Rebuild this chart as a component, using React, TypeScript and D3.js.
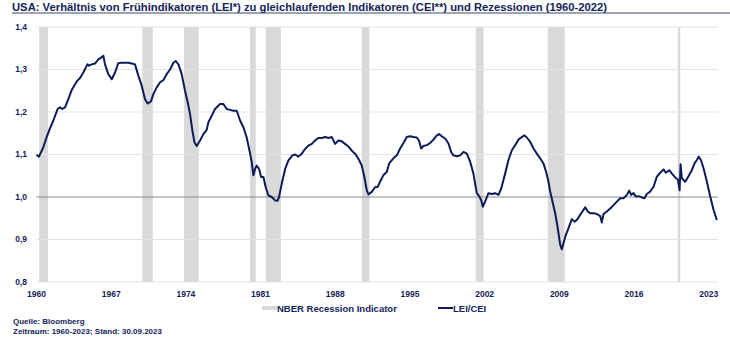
import React from "react";
import * as d3 from "d3";

const TITLE = "USA: Verhältnis von Frühindikatoren (LEI*) zu gleichlaufenden Indikatoren (CEI**) und Rezessionen (1960-2022)";
const yTicks = [0.8, 0.9, 1.0, 1.1, 1.2, 1.3, 1.4];
const xTicks = [1960, 1967, 1974, 1981, 1988, 1995, 2002, 2009, 2016, 2023];
const recStart = [1960.25, 1969.92, 1973.83, 1980.0, 1981.5, 1990.5, 2001.17, 2007.92, 2020.1];
const recEnd = [1961.08, 1970.9, 1975.2, 1980.55, 1982.9, 1991.2, 2001.9, 2009.5, 2020.33];

const dates = [
  1960.0, 1960.23, 1960.64, 1960.95, 1961.27, 1961.58, 1961.98, 1962.2, 1962.42, 1962.67, 1962.98,
  1963.3, 1963.77, 1964.08, 1964.39, 1964.77, 1964.92, 1965.17, 1965.48, 1965.8, 1966.05, 1966.27,
  1966.42, 1966.73, 1967.05, 1967.36, 1967.67, 1967.98, 1968.3, 1968.6, 1968.92, 1969.23, 1969.55,
  1969.86, 1970.17, 1970.42, 1970.73, 1970.95, 1971.27, 1971.58, 1971.89, 1972.2, 1972.52, 1972.83,
  1973.05, 1973.3, 1973.61, 1973.92, 1974.17, 1974.39, 1974.61, 1974.8, 1975.02, 1975.33, 1975.64,
  1975.95, 1976.11, 1976.42, 1976.73, 1977.2, 1977.5, 1977.83, 1978.14, 1978.45, 1978.77, 1979.08,
  1979.39, 1979.7, 1980.02, 1980.17, 1980.33, 1980.48, 1980.64, 1980.86, 1981.05, 1981.27, 1981.48,
  1981.73, 1982.05, 1982.36, 1982.58, 1982.73, 1982.98, 1983.3, 1983.61, 1983.98, 1984.23, 1984.55,
  1984.86, 1985.17, 1985.48, 1985.8, 1986.11, 1986.42, 1986.73, 1987.05, 1987.36, 1987.67, 1987.98,
  1988.3, 1988.6, 1988.92, 1989.23, 1989.55, 1989.86, 1990.17, 1990.48, 1990.73, 1990.95, 1991.11,
  1991.42, 1991.73, 1991.98, 1992.2, 1992.52, 1992.83, 1993.05, 1993.45, 1993.77, 1994.08, 1994.39,
  1994.7, 1995.02, 1995.33, 1995.64, 1995.86, 1996.05, 1996.26, 1996.58, 1996.89, 1997.2, 1997.52,
  1997.73, 1997.98, 1998.3, 1998.61, 1998.86, 1999.08, 1999.4, 1999.7, 2000.02, 2000.33, 2000.64,
  2000.95, 2001.26, 2001.48, 2001.67, 2001.83, 2002.04, 2002.36, 2002.67, 2002.98, 2003.3, 2003.55,
  2003.92, 2004.23, 2004.55, 2004.86, 2005.17, 2005.48, 2005.73, 2005.95, 2006.26, 2006.58, 2006.89,
  2007.2, 2007.51, 2007.75, 2007.95, 2008.14, 2008.36, 2008.61, 2008.83, 2009.08, 2009.23, 2009.39,
  2009.61, 2009.86, 2010.17, 2010.42, 2010.64, 2010.95, 2011.17, 2011.42, 2011.67, 2011.89, 2012.2,
  2012.51, 2012.83, 2012.98, 2013.14, 2013.45, 2013.77, 2014.08, 2014.39, 2014.7, 2015.02, 2015.33,
  2015.55, 2015.73, 2015.95, 2016.17, 2016.42, 2016.73, 2016.98, 2017.2, 2017.51, 2017.83, 2018.14,
  2018.45, 2018.77, 2018.98, 2019.3, 2019.55, 2019.86, 2020.11, 2020.27, 2020.36, 2020.48, 2020.8,
  2021.1, 2021.42, 2021.67, 2021.89, 2022.05, 2022.27, 2022.52, 2022.83, 2023.14, 2023.45, 2023.76,
];
const leiCei = [
  1.099, 1.095, 1.117, 1.141, 1.162, 1.18, 1.207, 1.211, 1.207, 1.211, 1.23,
  1.252, 1.272, 1.28, 1.293, 1.312, 1.309, 1.312, 1.314, 1.324, 1.328, 1.332,
  1.312, 1.289, 1.277, 1.293, 1.315, 1.316, 1.316, 1.316, 1.314, 1.312, 1.285,
  1.262, 1.23, 1.22, 1.225, 1.242, 1.258, 1.27, 1.275, 1.289, 1.3, 1.316,
  1.32, 1.312, 1.289, 1.25, 1.223, 1.195, 1.156, 1.129, 1.12, 1.133, 1.148,
  1.158, 1.176, 1.191, 1.207, 1.219, 1.219, 1.207, 1.205, 1.203, 1.203, 1.18,
  1.164, 1.14, 1.102, 1.082, 1.051, 1.066, 1.074, 1.066, 1.047, 1.047, 1.023,
  1.004, 1.0, 0.992, 0.991, 1.0, 1.031, 1.066, 1.086, 1.098, 1.1, 1.095,
  1.102, 1.113, 1.121, 1.125, 1.133, 1.139, 1.139, 1.141, 1.139, 1.141, 1.125,
  1.133, 1.131, 1.125, 1.119, 1.109, 1.102, 1.09, 1.074, 1.047, 1.016, 1.006,
  1.012, 1.023, 1.024, 1.036, 1.052, 1.059, 1.079, 1.091, 1.098, 1.114, 1.127,
  1.141, 1.143, 1.141, 1.14, 1.132, 1.114, 1.12, 1.122, 1.127, 1.135, 1.145,
  1.148, 1.143, 1.1375, 1.126, 1.106, 1.098, 1.096, 1.098, 1.106, 1.102, 1.083,
  1.055, 1.009, 1.002, 0.993, 0.977, 0.989, 1.009, 1.007, 1.009, 1.005, 1.02,
  1.055, 1.087, 1.11, 1.122, 1.135, 1.141, 1.145, 1.14, 1.13, 1.114, 1.102,
  1.091, 1.079, 1.06, 1.04, 1.013, 0.989, 0.962, 0.93, 0.888, 0.877, 0.891,
  0.911, 0.927, 0.948, 0.942, 0.946, 0.958, 0.966, 0.976, 0.966, 0.962, 0.962,
  0.96, 0.955, 0.94, 0.96, 0.966, 0.973, 0.981, 0.989, 0.997, 0.997, 1.005,
  1.015, 1.005, 1.009, 1.001, 1.002, 0.999, 0.997, 1.007, 1.0125, 1.024, 1.048,
  1.057, 1.065, 1.057, 1.063, 1.055, 1.046, 1.041, 1.016, 1.077, 1.044, 1.036,
  1.049, 1.063, 1.079, 1.087, 1.095, 1.087, 1.067, 1.036, 1.001, 0.97, 0.946,
];

const NAVY = "#14245a";
const LINE = "#0c1c58";
const FONT = "'Liberation Sans', Arial, sans-serif";

export default function App() {
  const W = 730, H = 343;
  const x = d3.scaleLinear().domain([1960, 2024]).range([36.5, 719.4]);
  const y = d3.scaleLinear().domain([0.8, 1.4]).range([282, 27]);
  const pts = dates.map((d, i) => [d, leiCei[i]] as [number, number]);
  const line = d3.line<[number, number]>().x(d => x(d[0])).y(d => y(d[1]));
  const fmt = (v: number) => d3.format(".1f")(v).replace(".", ",");
  const xR = 718;
  return (
    <svg width={W} height={H} style={{ position: "absolute", left: 0, top: 0, background: "#fff" }} fontFamily={FONT}>
      <text x={12} y={11} fontSize={11.25} fontWeight="bold" fill={NAVY}>{TITLE}</text>
      <line x1={12} x2={730} y1={13} y2={13} stroke="#3a4672" strokeWidth={1} />
      {recStart.map((s, i) => (
        <rect key={"r" + i} x={x(s)} y={y(1.4)} width={x(recEnd[i]) - x(s)} height={y(0.8) - y(1.4)} fill="#d9d9d9" />
      ))}
      {yTicks.map(t => (
        <line key={"g" + t} x1={x(1960)} x2={xR} y1={y(t)} y2={y(t)}
          stroke={t === 1.0 ? "#8c8c8c" : "#e3e3e3"} strokeWidth={t === 1.0 ? 1.2 : 1} />
      ))}
      {yTicks.map(t => (
        <text key={"yl" + t} x={27} y={y(t)} dy="0.35em" textAnchor="end" fontSize={8.5} fontWeight="bold" fill={NAVY}>{fmt(t)}</text>
      ))}
      {xTicks.map(t => (
        <text key={"xl" + t} x={x(t)} y={297} textAnchor="middle" fontSize={8.5} fontWeight="bold" fill={NAVY}>{t}</text>
      ))}
      <path d={line(pts) || ""} fill="none" stroke={LINE} strokeWidth={2} strokeLinejoin="round" />
      <rect x={262} y={306} width={15} height={4} fill="#d9d9d9" />
      <text x={277} y={311.5} fontSize={9.5} fontWeight="bold" fill={NAVY}>NBER Recession Indicator</text>
      <line x1={438} x2={453} y1={308} y2={308} stroke={LINE} strokeWidth={2} />
      <text x={453} y={311.5} fontSize={9.5} fontWeight="bold" fill={NAVY}>LEI/CEI</text>
      <text x={13} y={324} fontSize={8} fontWeight="bold" fill={NAVY}>Quelle: Bloomberg</text>
      <text x={13} y={333.5} fontSize={8} fontWeight="bold" fill={NAVY}>Zeitraum: 1960-2023; Stand: 30.09.2023</text>
    </svg>
  );
}
